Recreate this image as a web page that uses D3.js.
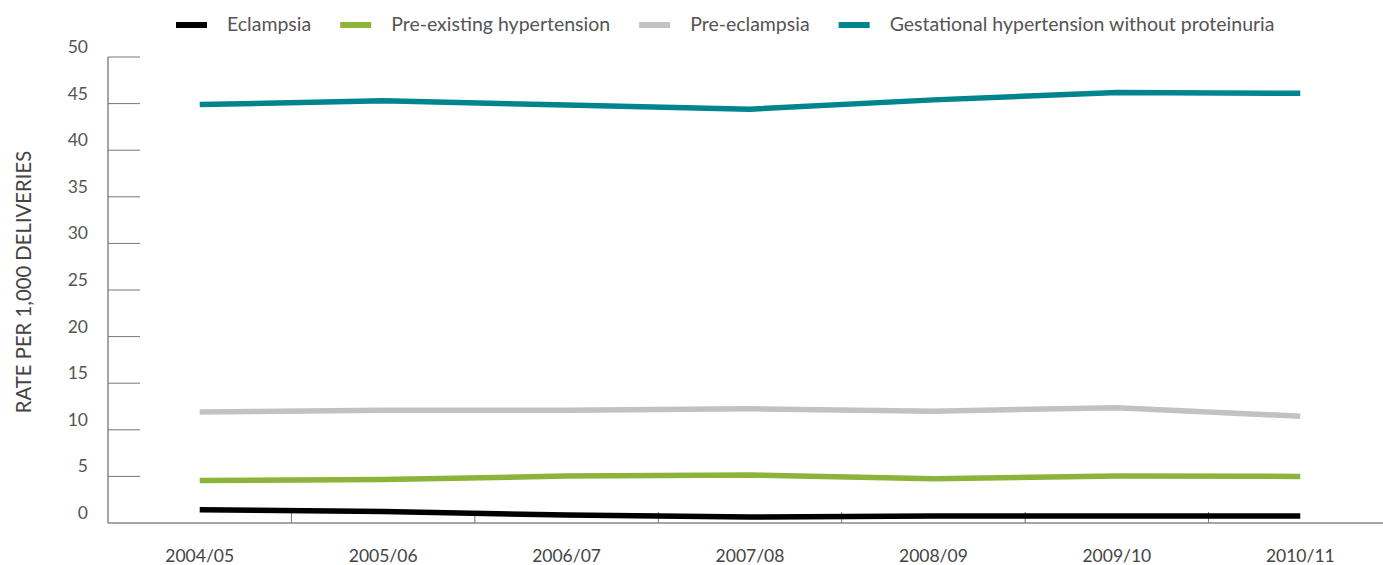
<!DOCTYPE html>
<html>
<head>
<meta charset="utf-8">
<script src="https://cdn.jsdelivr.net/npm/d3@7"></script>
<style>
  body { margin: 0; background: #fff; }
  text { font-family: Lato, "Open Sans", sans-serif; }
</style>
</head>
<body>
<div id="chart"></div>
<script>
// Data
const years = ['2004/05', '2005/06', '2006/07', '2007/08', '2008/09', '2009/10', '2010/11'];
const seriesNames = ['Eclampsia', 'Pre-existing hypertension', 'Pre-eclampsia', 'Gestational hypertension without proteinuria'];
const eclampsia = [1.43, 1.23, 0.86, 0.64, 0.75, 0.75, 0.75];
const preExisting = [4.57, 4.66, 5.03, 5.14, 4.76, 5.03, 5.0];
const preEclampsia = [11.9, 12.1, 12.1, 12.26, 12.0, 12.37, 11.46];
const gestational = [44.9, 45.3, 44.85, 44.4, 45.4, 46.2, 46.1];
const yTicks = [0, 5, 10, 15, 20, 25, 30, 35, 40, 45, 50];
const seriesColors = ['#000000', '#8cb33a', '#c1c2c4', '#00848e'];

const series = [eclampsia, preExisting, preEclampsia, gestational].map((vals, i) => ({
  name: seriesNames[i],
  color: seriesColors[i],
  values: vals
}));

const width = 1383, height = 565;
const plot = {left: 108, right: 1392, top: 57, bottom: 523};

const svg = d3.select('#chart').append('svg')
  .attr('width', width)
  .attr('height', height);

const x = d3.scaleBand()
  .domain(years)
  .range([plot.left, plot.right]);

const y = d3.scaleLinear()
  .domain([0, 50])
  .range([plot.bottom, plot.top]);

// Y axis: vertical line + short ticks pointing into the plot
const yAxis = svg.append('g');
yAxis.append('line')
  .attr('x1', plot.left).attr('x2', plot.left)
  .attr('y1', y(50)).attr('y2', y(0))
  .attr('stroke', '#888').attr('stroke-width', 1.5);
yAxis.selectAll('.ytick')
  .data(yTicks.filter(d => d > 0))
  .join('line')
  .attr('class', 'ytick')
  .attr('x1', plot.left).attr('x2', plot.left + 32)
  .attr('y1', d => y(d)).attr('y2', d => y(d))
  .attr('stroke', '#777').attr('stroke-width', 1);
yAxis.selectAll('.ylabel')
  .data(yTicks)
  .join('text')
  .attr('class', 'ylabel')
  .attr('x', 88)
  .attr('y', d => y(d) - 4)
  .attr('text-anchor', 'end')
  .attr('fill', '#555')
  .attr('font-size', 17.5)
  .text(d => d);

svg.append('text')
  .attr('transform', 'translate(31,282) rotate(-90)')
  .attr('text-anchor', 'middle')
  .attr('fill', '#444')
  .attr('font-size', 20.3)
  .text('RATE PER 1,000 DELIVERIES');

// X axis: baseline + ticks at band boundaries
const xAxis = svg.append('g');
xAxis.append('line')
  .attr('x1', plot.left).attr('x2', width)
  .attr('y1', plot.bottom).attr('y2', plot.bottom)
  .attr('stroke', '#888').attr('stroke-width', 1.5);
xAxis.selectAll('.xtick')
  .data(years.slice(1))
  .join('line')
  .attr('class', 'xtick')
  .attr('x1', d => x(d)).attr('x2', d => x(d))
  .attr('y1', plot.bottom).attr('y2', plot.bottom - 11)
  .attr('stroke', '#777').attr('stroke-width', 1);
xAxis.selectAll('.xlabel')
  .data(years)
  .join('text')
  .attr('class', 'xlabel')
  .attr('x', d => x(d) + x.bandwidth() / 2)
  .attr('y', 562)
  .attr('text-anchor', 'middle')
  .attr('fill', '#444')
  .attr('font-size', 17.5)
  .text(d => d);

// Lines
const line = d3.line()
  .x((d, i) => x(years[i]) + x.bandwidth() / 2)
  .y(d => y(d));

svg.selectAll('.series')
  .data(series)
  .join('path')
  .attr('class', 'series')
  .attr('d', d => line(d.values))
  .attr('fill', 'none')
  .attr('stroke', d => d.color)
  .attr('stroke-width', 5.5)
  .attr('stroke-linejoin', 'round');

// Legend
const legend = svg.append('g').attr('transform', 'translate(176,25)');
let lx = 0;
series.forEach(s => {
  const g = legend.append('g').attr('transform', `translate(${lx},0)`);
  g.append('rect')
    .attr('x', 0).attr('y', -3)
    .attr('width', 31).attr('height', 6)
    .attr('fill', s.color);
  const t = g.append('text')
    .attr('x', 51).attr('y', 6)
    .attr('fill', '#555')
    .attr('font-size', 19.5)
    .text(s.name);
  lx += 51 + t.node().getComputedTextLength() + 29;
});
</script>
</body>
</html>
